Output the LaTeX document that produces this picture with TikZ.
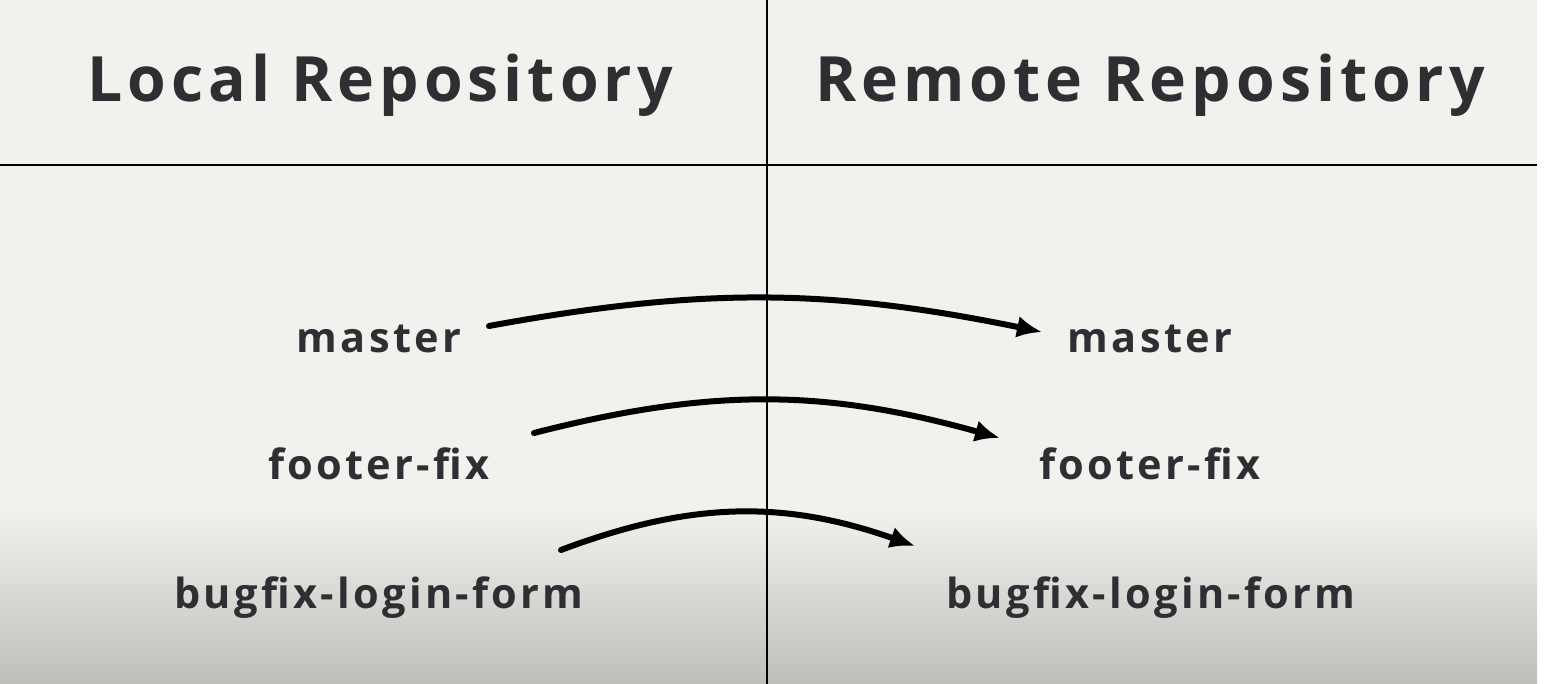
\documentclass[tikz,border=0pt]{standalone}
\usepackage{fontspec}
\usepackage{tikz}
\usetikzlibrary{arrows.meta}
\usetikzlibrary{positioning}
\newfontfamily\headfont{Open Sans}[LetterSpace=8]
\newfontfamily\branchfont{Open Sans}[LetterSpace=8]
\definecolor{paper}{HTML}{F1F1ED}
\definecolor{paperdark}{HTML}{BEBEBA}
\definecolor{ink}{HTML}{2E2F33}
\tikzset{
	head/.style={anchor=base, text=ink, font=\headfont\bfseries\fontsize{62.5}{70}\selectfont},
	branch/.style={anchor=base, text=ink, font=\branchfont\bfseries\fontsize{41.5}{50}\selectfont},
	push/.style={line width=6pt, -{Latex[length=25pt, width=22pt]}},
}
\begin{document}
\begin{tikzpicture}[line cap=round,line join=round, x=1pt,y=1pt]
	\useasboundingbox (0,0) rectangle (1546,684);
	\fill[white] (0,0) rectangle (1546,684);
	\fill[paper] (0,0) rectangle (1537,684);
	\shade[top color=paper, bottom color=paperdark] (0,0) rectangle (1537,174);
	% frame lines
	\draw[line width=1.5pt,line cap=butt] (767,0) -- (767,684);
	\draw[line width=1.5pt,line cap=butt] (0,519) -- (1537,519);
	% headings
	\node[head] (local) at (380,582) {Local Repository};
	\node[head] (remote) at (1150,582) {Remote Repository};
	% branches
	\node[branch] (lmaster) at (379,331) {master};
	\node[branch] (lfooter) at (379,204) {footer-fix};
	\node[branch] (lbugfix) at (379,75) {bugfix-login-form};
	\node[branch] (rmaster) at (1150,331) {master};
	\node[branch] (rfooter) at (1150,204) {footer-fix};
	\node[branch] (rbugfix) at (1151,75) {bugfix-login-form};
	% arrow ends
	\coordinate (ms) at (489,358);
	\coordinate (me) at (1042,352);
	\coordinate (fs) at (534,251);
	\coordinate (fe) at (1000,246);
	\coordinate (bs) at (561,134);
	\coordinate (be) at (915,138);
	\draw[push] (ms) to[bend left=11] (me);
	\draw[push] (fs) to[bend left=15] (fe);
	\draw[push] (bs) to[bend left=20] (be);
\end{tikzpicture}
\end{document}
